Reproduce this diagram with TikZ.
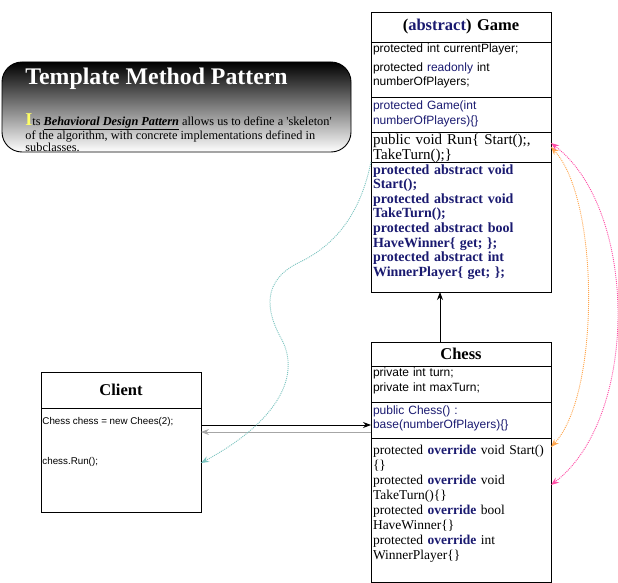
\documentclass[tikz,border=0pt]{standalone}
\usepackage{fontspec}
\setmainfont{Liberation Serif}
\setsansfont{Liberation Sans}
\usetikzlibrary{positioning,arrows.meta}
\definecolor{navytext}{HTML}{1A1A70}
\definecolor{runlink}{HTML}{7CC4C0}
\definecolor{startlink}{HTML}{FFA64D}
\definecolor{winlink}{HTML}{FF4DA6}
\definecolor{initial}{HTML}{FFFF66}

\begin{document}
\begin{tikzpicture}[x=1pt, y=-1pt, node distance=0pt, line width=0.9pt,
  >={Stealth[length=8pt,width=6pt]},
  headbox/.style={rectangle, draw, outer sep=0pt, inner sep=2pt, text width=176pt, align=center, font=\fontsize{16.5}{18}\selectfont\bfseries},
  membox/.style={rectangle, draw, outer sep=0pt, inner sep=2pt, text width=176pt, align=left},
  clienttext/.style={inner sep=1pt, anchor=west, font=\sffamily\fontsize{9.8}{11}\selectfont},
  dotlink/.style={dash pattern=on 1pt off 1pt}]
\useasboundingbox (0,0) rectangle (618,583);

% pattern note
\node [rectangle, draw, rounded corners=20pt, top color=black, bottom color=white, minimum width=349pt, minimum height=90pt, outer sep=0pt] (patternbox) at (176.5,107) {};
\node [anchor=base west, inner sep=0pt, text=white, font=\fontsize{23.8}{24}\selectfont\bfseries] (patterntitle) at (25,85) {Template Method Pattern};
\node [anchor=north west, inner sep=0pt, align=left, font=\fontsize{12.3}{11.5}\selectfont] (patterntext) at (25,113) {{\fontsize{18}{18}\selectfont\bfseries\textcolor{initial}{I}}ts \underline{\textbf{\textit{Behavioral Design Pattern}}} allows us to define a \textquotesingle skeleton\textquotesingle\\of the algorithm, with concrete implementations defined in\\subclasses.};

% Game
\node [headbox, minimum height=30pt] (gametitle) at (461,27) {(\textcolor{navytext}{abstract}) Game};
\node [membox, below=of gametitle, font=\sffamily\fontsize{12}{14}\selectfont, text height=9pt, text depth=42pt] (gamefields) {protected int currentPlayer;\\[5pt]protected \textcolor{navytext}{readonly} int\\numberOfPlayers;};
\node [membox, below=of gamefields, font=\sffamily\fontsize{12}{15}\selectfont, text=navytext, text height=11pt, text depth=20pt] (gamector) {protected Game(int\\numberOfPlayers)\{\}};
\node [membox, below=of gamector, font=\fontsize{15}{15}\selectfont, text height=10pt, text depth=16pt] (gamerun) {public void Run\{ Start();,\\TakeTurn();\}};
\node [membox, below=of gamerun, font=\fontsize{14}{14.6}\selectfont\bfseries, text=navytext, text height=10pt, text depth=116pt] (gameabstract) {protected abstract void\\Start();\\protected abstract void\\TakeTurn();\\protected abstract bool\\HaveWinner\{ get; \};\\protected abstract int\\WinnerPlayer\{ get; \};};

% Chess
\node [headbox, minimum height=24pt] (chesstitle) at (461,354) {Chess};
\node [membox, below=of chesstitle, font=\sffamily\fontsize{12}{15}\selectfont, text height=8pt, text depth=24pt] (chessfields) {private int turn;\\private int maxTurn;};
\node [membox, below=of chessfields, font=\sffamily\fontsize{12}{14}\selectfont, text=navytext, text height=10pt, text depth=22pt] (chessctor) {public Chess() :\\base(numberOfPlayers)\{\}};
\node [membox, below=of chessctor, font=\fontsize{13.5}{15}\selectfont, text height=14pt, text depth=126pt] (chessoverride) {protected \textcolor{navytext}{\textbf{override}} void Start()\\\{\}\\protected \textcolor{navytext}{\textbf{override}} void\\TakeTurn()\{\}\\protected \textcolor{navytext}{\textbf{override}} bool\\HaveWinner\{\}\\protected \textcolor{navytext}{\textbf{override}} int\\WinnerPlayer\{\}};

% Client
\node [headbox, text width=156pt, minimum height=36pt] (clienttitle) at (121,390) {Client};
\node [membox, text width=156pt, below=of clienttitle, minimum height=104pt] (clientbody) {};
\node [clienttext] (newchess) at ([yshift=-14pt]clientbody.north west) {Chess chess = new Chees(2);};
\node [clienttext] (runchess) at ([yshift=-54pt]clientbody.north west) {chess.Run();};

% links
\draw [->] ([xshift=-21pt]chesstitle.north) -- ([xshift=-21pt]gameabstract.south);
\coordinate (callrow) at ([yshift=-17pt]clientbody.north east);
\coordinate (backrow) at ([yshift=-24pt]clientbody.north east);
\draw [->] (callrow) -- (callrow -| chessctor.west);
\draw [gray!70, ->] (backrow -| chessctor.west) -- (backrow);
\draw [runlink, dotlink, ->] (gameabstract.north west) .. controls (360,215) and (335,245) .. (300,262) .. controls (262,280) and (265,310) .. (282,340) .. controls (300,375) and (280,420) .. ([yshift=-55pt]clientbody.north east);
\draw [startlink, dotlink, <->] (gamerun.east) .. controls (600,200) and (600,395) .. ([yshift=-9pt]chessoverride.north east);
\draw [winlink, dotlink, <->] ([yshift=4pt]gamerun.east) .. controls (639,210) and (639,418) .. ([yshift=-47pt]chessoverride.north east);

\end{tikzpicture}
\end{document}
